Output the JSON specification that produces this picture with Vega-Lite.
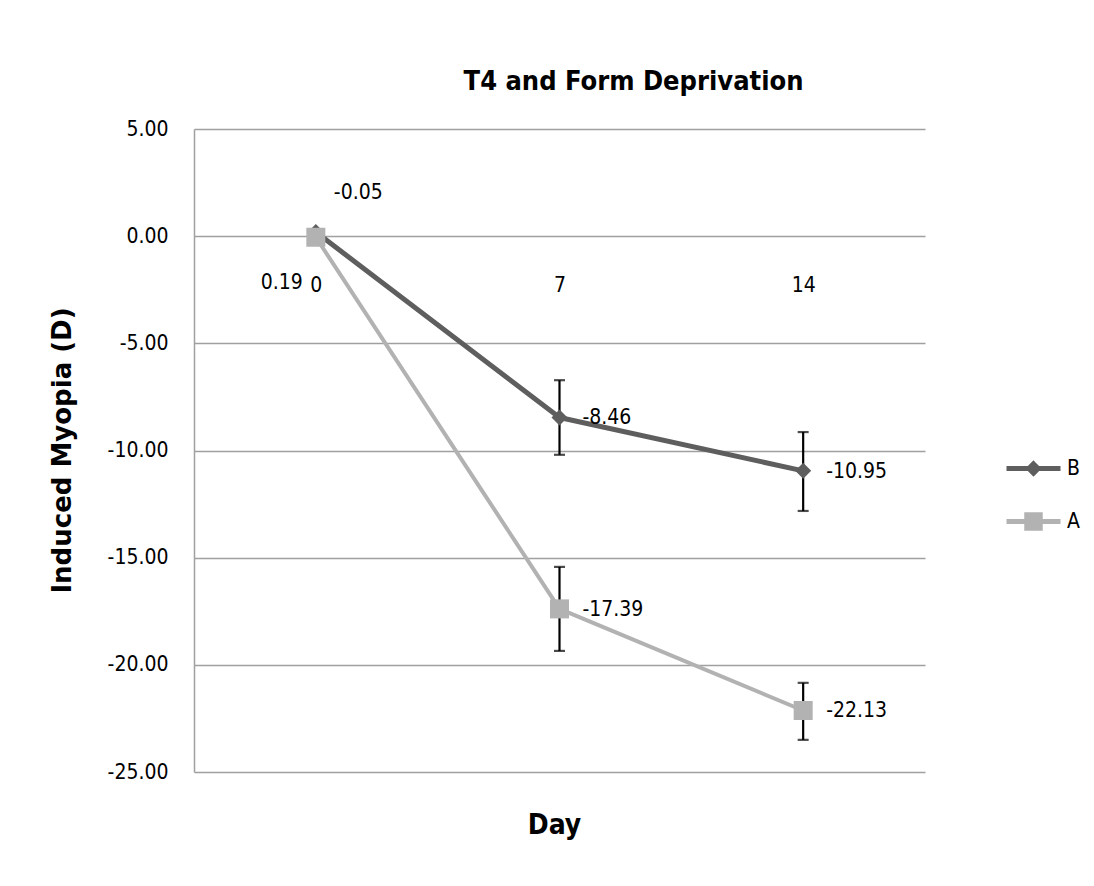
{
  "$schema": "https://vega.github.io/schema/vega-lite/v6.json",
  "width": 731,
  "height": 643,
  "autosize": {"type": "none"},
  "padding": {"left": 194, "top": 129, "right": 169, "bottom": 114},
  "background": "white",
  "title": {
    "text": "T4 and Form Deprivation",
    "font": "DejaVu Sans Condensed",
    "fontSize": 27,
    "fontWeight": "bold",
    "color": "#000000",
    "anchor": "middle",
    "dx": 74,
    "dy": 27,
    "offset": 28,
    "baseline": "alphabetic"
  },
  "config": {
    "view": {"stroke": null},
    "font": "DejaVu Sans Condensed",
    "locale": {"number": {"decimal": ".", "thousands": ",", "grouping": [3], "currency": ["$", ""], "minus": "-"}}
  },
  "data": {
    "values": [
      {"series": "B", "day": "0", "value": 0.19},
      {"series": "B", "day": "7", "value": -8.46, "lo": -10.2, "hi": -6.72},
      {"series": "B", "day": "14", "value": -10.95, "lo": -12.82, "hi": -9.14},
      {"series": "A", "day": "0", "value": -0.05},
      {"series": "A", "day": "7", "value": -17.39, "lo": -19.35, "hi": -15.43},
      {"series": "A", "day": "14", "value": -22.13, "lo": -23.5, "hi": -20.84}
    ]
  },
  "encoding": {
    "x": {
      "field": "day",
      "type": "ordinal",
      "sort": ["0", "7", "14"],
      "scale": {"type": "point", "padding": 0.5},
      "axis": {
        "orient": "bottom",
        "offset": -536,
        "domain": false,
        "ticks": false,
        "tickSize": 0,
        "grid": false,
        "labelAngle": 0,
        "labelFont": "DejaVu Sans Condensed",
        "labelFontSize": 21,
        "labelColor": "#000000",
        "labelPadding": 38,
        "title": "Day",
        "titleFont": "DejaVu Sans Condensed",
        "titleFontSize": 28,
        "titleFontWeight": "bold",
        "titleColor": "#000000",
        "titleX": 360,
        "titleY": 589,
        "titleBaseline": "middle"
      }
    },
    "y": {
      "field": "value",
      "type": "quantitative",
      "scale": {"domain": [-25, 5], "nice": false, "zero": false},
      "axis": {
        "values": [5, 0, -5, -10, -15, -20, -25],
        "format": ".2f",
        "ticks": false,
        "tickSize": 0,
        "labelPadding": 26,
        "labelFont": "DejaVu Sans Condensed",
        "labelFontSize": 21,
        "labelColor": "#000000",
        "domainColor": "#a0a0a0",
        "domainWidth": 1.5,
        "gridColor": "#a0a0a0",
        "gridWidth": 1.5,
        "title": "Induced Myopia (D)",
        "titleFont": "DejaVu Sans",
        "titleFontSize": 26,
        "titleFontWeight": "bold",
        "titleColor": "#000000",
        "titleAngle": -90,
        "titleX": -132,
        "titleY": 321,
        "titleAlign": "center",
        "titleBaseline": "middle"
      }
    }
  },
  "layer": [
    {
      "transform": [{"filter": "isValid(datum.lo)"}],
      "mark": {"type": "rule", "color": "#000000", "strokeWidth": 2.2},
      "encoding": {"y": {"field": "lo", "type": "quantitative"}, "y2": {"field": "hi"}}
    },
    {
      "transform": [{"filter": "isValid(datum.lo)"}],
      "mark": {"type": "tick", "color": "#000000", "size": 11, "thickness": 2.2, "orient": "horizontal"},
      "encoding": {"y": {"field": "lo", "type": "quantitative"}}
    },
    {
      "transform": [{"filter": "isValid(datum.lo)"}],
      "mark": {"type": "tick", "color": "#000000", "size": 11, "thickness": 2.2, "orient": "horizontal"},
      "encoding": {"y": {"field": "hi", "type": "quantitative"}}
    },
    {
      "mark": {"type": "line", "strokeJoin": "round", "strokeCap": "round"},
      "encoding": {
        "color": {"field": "series", "type": "nominal", "scale": {"domain": ["B", "A"], "range": ["#5e5e5e", "#b2b2b2"]}},
        "strokeWidth": {"condition": {"test": "datum.series === 'B'", "value": 5}, "value": 4},
        "detail": {"field": "series"}
      }
    },
    {
      "mark": {"type": "point", "filled": true, "opacity": 1},
      "encoding": {
        "color": {"field": "series", "type": "nominal"},
        "shape": {"condition": {"test": "datum.series === 'B'", "value": "diamond"}, "value": "square"},
        "size": {"condition": {"test": "datum.series === 'B'", "value": 256}, "value": 361}
      }
    },
    {
      "transform": [{"filter": "false"}],
      "mark": {"type": "point", "filled": false, "strokeWidth": 5},
      "encoding": {
        "color": {
          "field": "series",
          "type": "nominal",
          "legend": {
            "orient": "none",
            "legendX": 810,
            "legendY": 310,
            "title": null,
            "symbolSize": 2916,
            "symbolStrokeWidth": 5,
            "rowPadding": 8,
            "labelFont": "DejaVu Sans Condensed",
            "labelFontSize": 21,
            "labelColor": "#000000",
            "labelOffset": 4
          }
        },
        "shape": {
          "field": "series",
          "type": "nominal",
          "scale": {
            "domain": ["B", "A"],
            "range": [
              "M-1,0H1M0,-0.17L0.17,0L0,0.17L-0.17,0Z",
              "M-1,0H1M-0.25,-0.25H0.25V0.25H-0.25ZM-0.12,-0.12H0.12V0.12H-0.12Z"
            ]
          },
          "legend": {
            "orient": "none",
            "legendX": 810,
            "legendY": 310,
            "title": null,
            "symbolSize": 2916,
            "symbolStrokeWidth": 5,
            "rowPadding": 8,
            "labelFont": "DejaVu Sans Condensed",
            "labelFontSize": 21,
            "labelColor": "#000000",
            "labelOffset": 4
          }
        }
      }
    },
    {
      "transform": [{"filter": "datum.day !== '0'"}],
      "mark": {"type": "text", "align": "left", "baseline": "middle", "dx": 23, "dy": 1, "font": "DejaVu Sans Condensed", "fontSize": 21, "color": "#000000"},
      "encoding": {"text": {"field": "value", "type": "quantitative", "format": ".2f"}}
    },
    {
      "transform": [{"filter": "datum.day === '0' && datum.series === 'B'"}],
      "mark": {"type": "text", "align": "right", "baseline": "middle", "dx": -13, "dy": 51, "font": "DejaVu Sans Condensed", "fontSize": 21, "color": "#000000"},
      "encoding": {"text": {"field": "value", "type": "quantitative", "format": ".2f"}}
    },
    {
      "transform": [{"filter": "datum.day === '0' && datum.series === 'A'"}],
      "mark": {"type": "text", "align": "left", "baseline": "middle", "dx": 18, "dy": -44, "font": "DejaVu Sans Condensed", "fontSize": 21, "color": "#000000"},
      "encoding": {"text": {"field": "value", "type": "quantitative", "format": ".2f"}}
    }
  ]
}
